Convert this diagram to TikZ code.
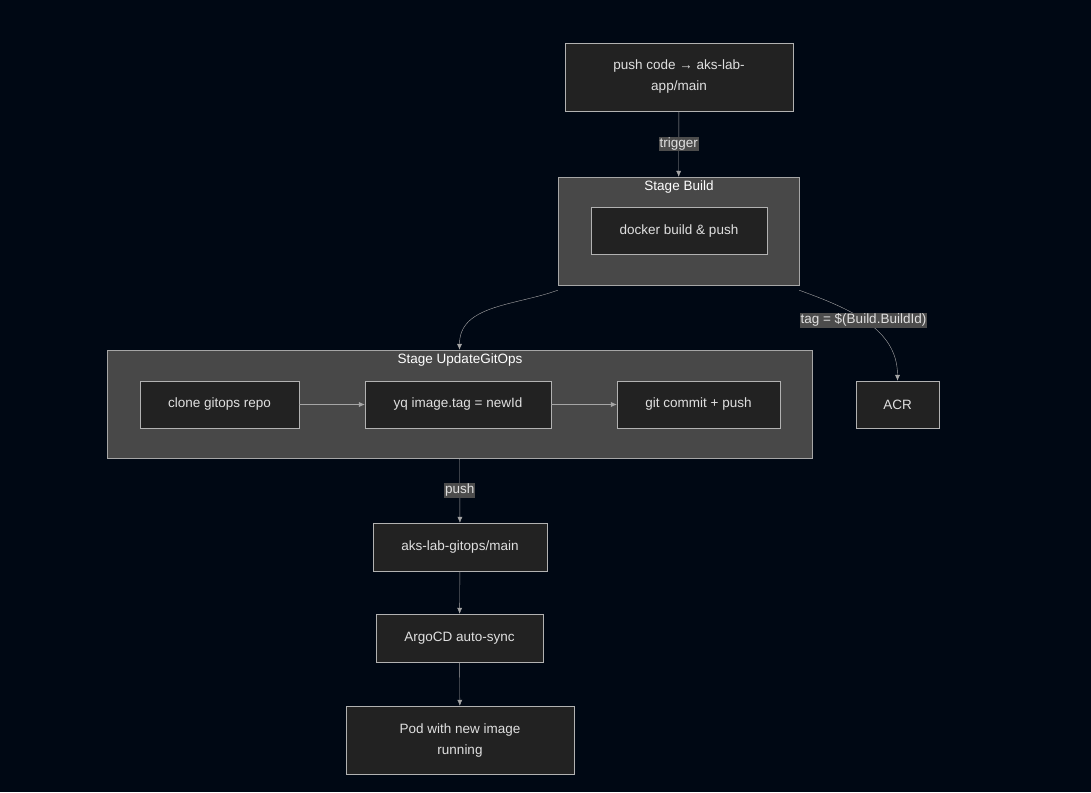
\documentclass[tikz,border=0pt]{standalone}
\usepackage{fontspec}
\setmainfont{Liberation Sans}
\usetikzlibrary{arrows.meta,positioning}
\definecolor{bgc}{HTML}{000814}
\definecolor{boxc}{HTML}{222222}
\definecolor{clusc}{HTML}{484848}
\definecolor{txtc}{HTML}{E0E0E0}
\tikzset{
  box/.style={draw=gray!60,fill=boxc,text=txtc,font=\fontsize{13.5}{21}\selectfont,align=center,inner sep=0pt},
  cluster/.style={draw=gray!70,fill=clusc,inner sep=0pt},
  title/.style={text=white,font=\fontsize{13.5}{16}\selectfont},
  lbl/.style={fill=gray!60!black,text=txtc,font=\fontsize{13.5}{16}\selectfont,inner sep=1pt},
  link/.style={draw=gray!70,-{Latex[length=6pt,width=5pt]}}
}
\begin{document}
\begin{tikzpicture}[x=1pt,y=-1pt]
  \fill[bgc] (0,0) rectangle (1091,792);
  \useasboundingbox (0,0) rectangle (1091,792);
  % clusters
  \node[cluster,minimum width=241,minimum height=108] (build) at (678.5,231) {};
  \node[title] (buildT) at (679,187) {Stage Build};
  \node[cluster,minimum width=705,minimum height=108] (update) at (459.5,404) {};
  \node[title] (updateT) at (460,360) {Stage UpdateGitOps};
  % nodes
  \node[box,minimum width=228,minimum height=68] (push) at (679,77) {push code → aks-lab-\\app/main};
  \node[box,minimum width=176,minimum height=47] (docker) at (679,231) {docker build \& push};
  \node[box,minimum width=159,minimum height=47] (clone) at (219.5,404.5) {clone gitops repo};
  \node[box,minimum width=186,minimum height=47] (yq) at (458,404.5) {yq image.tag = newId};
  \node[box,minimum width=163,minimum height=47] (commit) at (698.5,404.5) {git commit + push};
  \node[box,minimum width=83,minimum height=47] (acr) at (897.5,404.5) {ACR};
  \node[box,minimum width=174,minimum height=48] (gitops) at (460,547) {aks-lab-gitops/main};
  \node[box,minimum width=167,minimum height=48] (argo) at (459.5,638) {ArgoCD auto-sync};
  \node[box,minimum width=228,minimum height=68] (pod) at (460,740) {Pod with new image\\running};
  % edges
  \draw[link] (push) -- node[lbl] {trigger} (build);
  \draw[link] ([yshift=-5]build.south west) to[out=-160,in=90] (update.north);
  \draw[link] ([yshift=-5]build.south east) to[out=-20,in=90] node[lbl,pos=0.47] {tag = \$(Build.BuildId)} (acr.north);
  \draw[link] (clone) -- (yq);
  \draw[link] (yq) -- (commit);
  \draw[link] (update) -- node[lbl] {push} (gitops);
  \draw[link] (gitops) -- (argo);
  \draw[link] (argo) -- (pod);
\end{tikzpicture}
\end{document}
